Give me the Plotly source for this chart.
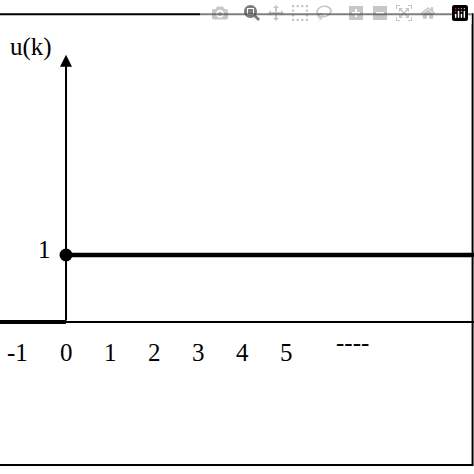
import plotly.graph_objects as go

# unit step u(k)
step_k_neg = [-1.5, 0]
step_u_neg = [0, 0]
step_k_pos = [0, 9.4]
step_u_pos = [1, 1]
tick_k = [-1, 0, 1, 2, 3, 4, 5]
tick_labels = ["-1", "0", "1", "2", "3", "4", "5"]

font = dict(family="Liberation Serif", size=25, color="black")

fig = go.Figure()
# horizontal axis
fig.add_trace(go.Scatter(x=[-1.5, 9.4], y=[0, 0], mode="lines",
                         line=dict(color="black", width=2)))
fig.add_trace(go.Scatter(x=step_k_neg, y=step_u_neg, mode="lines",
                         line=dict(color="black", width=4)))
fig.add_trace(go.Scatter(x=step_k_pos, y=step_u_pos, mode="lines",
                         line=dict(color="black", width=4.5)))
fig.add_trace(go.Scatter(x=[0], y=[1], mode="markers",
                         marker=dict(color="black", size=13)))

# vertical axis arrow
fig.add_annotation(x=0, y=3.99, ax=0, ay=0, xref="x", yref="y", axref="x", ayref="y",
                   showarrow=True, arrowhead=2, arrowsize=1.2, arrowwidth=2,
                   arrowcolor="black", text="")

for k, t in zip(tick_k, tick_labels):
    fig.add_annotation(x=k - (0.1 if k < 0 else 0), y=-0.45, text=t, showarrow=False, font=font)
fig.add_annotation(x=6.5, y=-0.3, text="----", showarrow=False, font=font)
fig.add_annotation(x=-0.5, y=1.08, text="1", showarrow=False, font=font)
fig.add_annotation(x=-0.8, y=4.1, text="u(k)", showarrow=False, font=font)

fig.add_shape(type="rect", xref="paper", yref="paper", x0=-0.01, x1=0.997,
              y0=0.019, y1=0.970, line=dict(color="black", width=2))

fig.update_layout(width=474, height=474, margin=dict(l=0, r=0, t=0, b=0),
                  showlegend=False, plot_bgcolor="white", paper_bgcolor="white",
                  xaxis=dict(range=[-1.5, 9.27], visible=False),
                  yaxis=dict(range=[-2.269, 4.806], visible=False))
fig.write_html("out.html")

# drop the default page margin so the figure fills the window
with open("out.html") as f:
    html = f.read()
html = html.replace("<body>", '<body style="margin:0;overflow:hidden">', 1)
with open("out.html", "w") as f:
    f.write(html)
